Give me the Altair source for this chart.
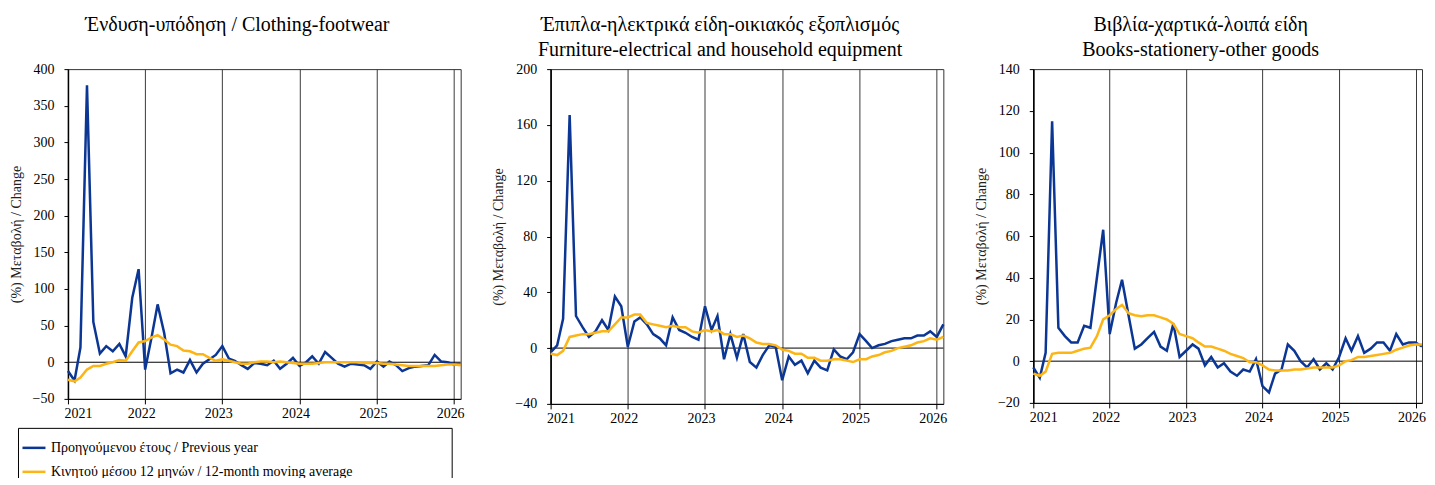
import altair as alt
import pandas as pd

months = [d.strftime("%Y-%m-%dT00:00:00") for d in pd.date_range("2021-01-01", periods=62, freq="MS")]

SERIES_PREV = "Προηγούμενου έτους / Previous year"
SERIES_MA = "Κινητού μέσου 12 μηνών / 12-month moving average"

clothing_prev = [-12, -25, 20, 378, 55, 12, 22, 15, 25, 8, 88, 127,
                 -10, 35, 79, 40, -15, -10, -14, 3, -14, -2, 4, 10,
                 22, 5, 2, -4, -9, -1, -2, -4, 2, -9, -2, 6,
                 -5, 0, 8, -2, 14, 6, -2, -6, -2, -3, -4, -9,
                 1, -6, 1, -4, -12, -8, -6, -5, -4, 10, 1, 0,
                 -3, -3]
clothing_ma = [-24, -26, -21, -10, -5, -5, -2, 0, 3, 2, 15, 27,
               29, 34, 37, 31, 24, 22, 16, 15, 11, 11, 6, 2,
               4, 2, 0, -2, -2, 0, 1, 1, 0, 1, 0, -1,
               -2, -2, -2, -1, 0, 0, 0, 0, 0, 0, -1, -1,
               -1, -2, -2, -3, -4, -5, -5, -5, -5, -5, -4, -3,
               -3, -4]

furniture_prev = [-3, 2, 21, 167, 23, 15, 8, 12, 20, 13, 37, 30,
                  1, 19, 22, 17, 10, 7, 2, 22, 13, 11, 8, 6,
                  30, 13, 23, -8, 10, -7, 10, -10, -14, -5, 2, 1,
                  -23, -6, -12, -9, -18, -9, -14, -16, -1, -6, -8, -3,
                  10, 5, 0, 2, 3, 5, 6, 7, 7, 9, 9, 12,
                  8, 17]
furniture_ma = [-4, -5, -2, 8, 9, 10, 10, 11, 12, 12, 17, 22,
                22, 24, 24, 18, 17, 16, 15, 16, 15, 15, 12, 11,
                13, 12, 13, 10, 10, 8, 9, 7, 4, 3, 3, 2,
                -1, -2, -4, -4, -7, -7, -9, -9, -8, -8, -9, -10,
                -8, -8, -6, -5, -3, -2, 0, 1, 2, 4, 5, 7,
                6, 8]

books_prev = [-3, -8, 4, 115, 16, 12, 9, 9, 17, 16, 40, 63,
              13, 28, 39, 22, 6, 8, 11, 14, 7, 5, 18, 2,
              5, 8, 6, -2, 2, -3, -1, -5, -7, -4, -5, 1,
              -12, -15, -6, -4, 8, 5, 0, -3, 1, -4, -1, -4,
              2, 11, 5, 12, 4, 6, 9, 9, 5, 13, 8, 9,
              9, 7]
books_ma = [-6, -7, -5, 3.5, 4, 4, 4, 5, 6, 6.5, 12, 20,
            22, 25, 27, 23, 22, 21.5, 22, 22, 21, 20, 18, 13,
            12, 11, 9, 7, 7, 6, 5, 3.5, 2.5, 1.5, -0.5, -0.5,
            -2, -4, -4.5, -4.5, -4.5, -4, -4, -3.5, -3, -3, -3, -3,
            -2, 0, 0.5, 2, 2, 2.5, 3, 3.5, 4, 5.5, 6.5, 7.5,
            8, 8]

titles = [
    ["Ένδυση-υπόδηση / Clothing-footwear", " "],
    ["Έπιπλα-ηλεκτρικά είδη-οικιακός εξοπλισμός", "Furniture-electrical and household equipment"],
    ["Βιβλία-χαρτικά-λοιπά είδη", "Books-stationery-other goods"],
]
y_ranges = [(-50, 400, 50), (-40, 200, 40), (-20, 140, 20)]
years = [2021, 2022, 2023, 2024, 2025, 2026]

FONT = "Liberation Serif"
BLUE = "#0b3694"
ORANGE = "#fdb515"
Y_TITLE = "(%) Μεταβολή / Change"

color_scale = alt.Scale(domain=[SERIES_PREV, SERIES_MA], range=[BLUE, ORANGE])
legend = alt.Legend(
    title="_" * 214, titleFont=FONT, titleFontSize=4, titleColor="white",
    titleLimit=3000, titlePadding=0,
    orient="none", legendX=-50, legendY=359, direction="vertical",
    symbolType="stroke", symbolStrokeWidth=2.5, symbolSize=529,
    labelFont=FONT, labelFontSize=14, labelColor="black", labelLimit=1000,
    labelOffset=4, rowPadding=4, padding=3, strokeColor="black", fillColor="white",
)


def panel(title, prev, ma, yr, width, height, offset):
    ymin, ymax, step = yr
    df = pd.DataFrame({
        "date": months * 2,
        "value": prev + ma,
        "series": [SERIES_PREV] * len(prev) + [SERIES_MA] * len(ma),
    })
    x = alt.X(
        "date:T", title=None,
        scale=alt.Scale(domain=[alt.DateTime(year=2021, month=1, date=1),
                                alt.DateTime(year=2026, month=2, date=1)]),
        axis=alt.Axis(values=[alt.DateTime(year=y, month=1, date=1) for y in years],
                      format="%Y", grid=True, gridColor="#3a3a3a", gridWidth=1,
                      tickSize=5, tickColor="black", domainColor="black",
                      labelPadding=3, labelOffset=-4, labelFont=FONT, labelFontSize=14,
                      labelColor="black", labelOverlap=False),
    )
    y_axis = alt.Axis(values=list(range(ymin, ymax + 1, step)), grid=False,
                      tickSize=4, tickColor="black", domainColor="black", domainWidth=1.5,
                      labelPadding=10, titlePadding=9, labelFont=FONT, labelFontSize=14,
                      labelColor="black", labelOverlap=False, titleFont=FONT,
                      titleFontSize=14, titleFontWeight="normal", titleColor="#222")
    y = alt.Y("value:Q", title=Y_TITLE,
              scale=alt.Scale(domain=[ymin, ymax], nice=False, zero=False),
              axis=y_axis)
    base = alt.Chart(df)
    zero = alt.Chart(pd.DataFrame({"value": [0]})).mark_rule(color="black", strokeWidth=1).encode(
        y=alt.Y("value:Q", title=Y_TITLE, axis=y_axis))
    blue = base.transform_filter(alt.datum.series == SERIES_PREV).mark_line(strokeWidth=2.5).encode(
        x=x, y=y, color=alt.Color("series:N", scale=color_scale, legend=legend))
    orange = base.transform_filter(alt.datum.series == SERIES_MA).mark_line(strokeWidth=2.5).encode(
        x=x, y=y, color=alt.Color("series:N", scale=color_scale, legend=legend))
    return alt.layer(zero, blue, orange).properties(
        width=width, height=height,
        title=alt.TitleParams(text=title, font=FONT, fontSize=20, fontWeight="normal",
                              anchor="middle", frame="bounds", offset=offset,
                              lineHeight=25, color="black"),
    )


p1 = panel(titles[0], clothing_prev, clothing_ma, y_ranges[0], 393, 330, 2)
p2 = panel(titles[1], furniture_prev, furniture_ma, y_ranges[1], 393, 335, 2)
p3 = panel(titles[2], books_prev, books_ma, y_ranges[2], 389, 334, 2)

chart = alt.hconcat(p1, p2, p3, spacing=24).properties(
    padding={"left": 0, "top": 6, "right": -1, "bottom": -5}
).configure_view(stroke="#333", strokeWidth=1)

chart.save("out.html", embed_options={"renderer": "svg", "actions": False})
